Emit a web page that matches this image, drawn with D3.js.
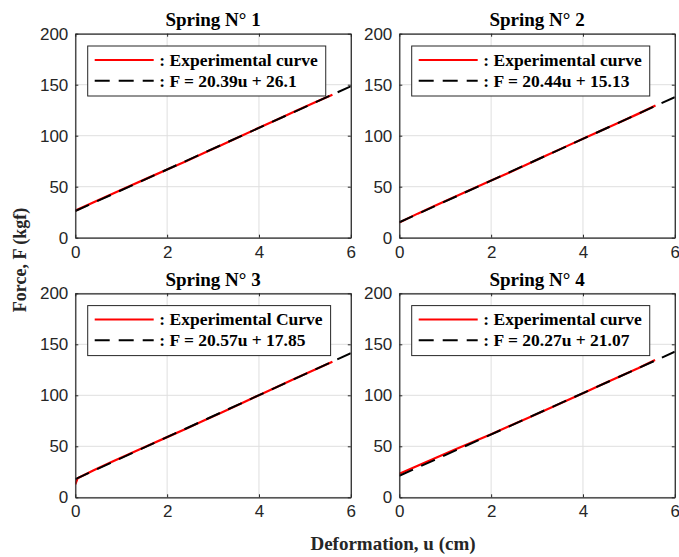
<!DOCTYPE html>
<html>
<head>
<meta charset="utf-8">
<script src="https://cdn.jsdelivr.net/npm/d3@7"></script>
<style>
  html, body { margin: 0; padding: 0; background: #fff; }
  svg { display: block; }
</style>
</head>
<body>
<svg id="chart" width="679" height="557"></svg>
<script>
// ---- data ----
const panelTitles = ["Spring N° 1", "Spring N° 2", "Spring N° 3", "Spring N° 4"];
const expLabels = [": Experimental curve", ": Experimental curve", ": Experimental Curve", ": Experimental curve"];
const fitLabels = [": F = 20.39u + 26.1", ": F = 20.44u + 15.13", ": F = 20.57u + 17.85", ": F = 20.27u + 21.07"];
const fitSlopes = [20.39, 20.44, 20.57, 20.27];
const fitIntercepts = [26.1, 15.13, 17.85, 21.07];

const spring1U = [0, 0.4, 0.8, 1.2, 1.6, 2.0, 2.4, 2.8, 3.2, 3.6, 4.0, 4.4, 4.8, 5.2, 5.6];
const spring1F = [26.5, 34.8, 42.9, 50.9, 58.9, 66.8, 74.8, 83.0, 91.2, 99.5, 107.8, 116.0, 124.1, 132.2, 140.2];
const spring2U = [0, 0.4, 0.8, 1.2, 1.6, 2.0, 2.4, 2.8, 3.2, 3.6, 4.0, 4.4, 4.8, 5.2, 5.58];
const spring2F = [14.8, 23.6, 31.9, 40.0, 48.0, 56.0, 64.0, 72.2, 80.5, 88.8, 97.0, 105.2, 113.3, 121.4, 129.5];
const spring3U = [0, 0.05, 0.4, 0.8, 1.2, 1.6, 2.0, 2.4, 2.8, 3.2, 3.6, 4.0, 4.4, 4.8, 5.2, 5.6];
const spring3F = [12.8, 18.6, 26.6, 34.9, 43.0, 51.0, 59.0, 67.0, 75.2, 83.5, 91.8, 100.1, 108.4, 116.6, 124.8, 133.0];
const spring4U = [0, 0.4, 0.8, 1.2, 1.6, 2.0, 2.4, 2.8, 3.2, 3.6, 4.0, 4.4, 4.8, 5.2, 5.57];
const spring4F = [23.0, 31.0, 38.8, 46.6, 54.2, 61.9, 69.8, 77.8, 85.8, 93.9, 102.1, 110.3, 118.4, 126.5, 134.5];

const xTicks = [0, 2, 4, 6];
const yTicks = [0, 50, 100, 150, 200];
const xLabel = "Deformation, u (cm)";
const yLabel = "Force, F (kgf)";

const expU = [spring1U, spring2U, spring3U, spring4U];
const expF = [spring1F, spring2F, spring3F, spring4F];

// ---- layout ----
const svg = d3.select("#chart");
const panelW = 275.5, panelH = 204;
const panelPos = [[75.3, 33.7], [399.3, 33.7], [75.3, 293.3], [399.3, 293.3]];
const axisColor = "#262626";
const serif = "'Liberation Serif', 'Times New Roman', serif";
const sans = "'Liberation Sans', Arial, Helvetica, sans-serif";

const x = d3.scaleLinear().domain([0, 6]).range([0, panelW]);
const y = d3.scaleLinear().domain([0, 200]).range([panelH, 0]);

panelPos.forEach((pos, i) => {
  const g = svg.append("g").attr("transform", `translate(${pos[0]},${pos[1]})`);

  // grid
  g.append("g").selectAll("line.gx").data(xTicks).join("line")
    .attr("x1", d => x(d)).attr("x2", d => x(d)).attr("y1", 0).attr("y2", panelH)
    .attr("stroke", "#dfdfdf").attr("stroke-width", 1);
  g.append("g").selectAll("line.gy").data(yTicks).join("line")
    .attr("y1", d => y(d)).attr("y2", d => y(d)).attr("x1", 0).attr("x2", panelW)
    .attr("stroke", "#dfdfdf").attr("stroke-width", 1);

  // clip
  const clipId = "clip" + i;
  g.append("clipPath").attr("id", clipId).append("rect")
    .attr("x", 0).attr("y", 0).attr("width", panelW).attr("height", panelH);

  const plot = g.append("g").attr("clip-path", `url(#${clipId})`);
  const line = d3.line().x(d => x(d[0])).y(d => y(d[1]));

  // experimental curve
  const expPts = expU[i].map((u, k) => [u, expF[i][k]]);
  plot.append("path").attr("d", line(expPts))
    .attr("fill", "none").attr("stroke", "#ff0000").attr("stroke-width", 2.2)
    .attr("stroke-linejoin", "round");

  // fit line
  const fitPts = [0, 6].map(u => [u, fitSlopes[i] * u + fitIntercepts[i]]);
  plot.append("path").attr("d", line(fitPts))
    .attr("fill", "none").attr("stroke", "#000").attr("stroke-width", 2)
    .attr("stroke-dasharray", "15,9");

  // axes (box + inward ticks)
  const xAxisB = d3.axisBottom(x).tickValues(xTicks).tickSizeInner(-3).tickSizeOuter(0).tickPadding(8).tickFormat(d3.format("d"));
  const yAxisL = d3.axisLeft(y).tickValues(yTicks).tickSizeInner(-3).tickSizeOuter(0).tickPadding(7).tickFormat(d3.format("d"));
  const xAxisT = d3.axisTop(x).tickValues(xTicks).tickSizeInner(-3).tickSizeOuter(0).tickFormat("");
  const yAxisR = d3.axisRight(y).tickValues(yTicks).tickSizeInner(-3).tickSizeOuter(0).tickFormat("");

  const styleAxis = sel => {
    sel.selectAll("path.domain").attr("stroke", axisColor).attr("stroke-width", 1.2);
    sel.selectAll(".tick line").attr("stroke", axisColor).attr("stroke-width", 1);
    sel.selectAll(".tick text").attr("fill", axisColor).style("font-family", sans).style("font-size", "17px");
  };
  g.append("g").attr("transform", `translate(0,${panelH})`).call(xAxisB).call(styleAxis);
  g.append("g").call(yAxisL).call(styleAxis);
  g.append("g").call(xAxisT).call(styleAxis);
  g.append("g").attr("transform", `translate(${panelW},0)`).call(yAxisR).call(styleAxis);

  // title
  g.append("text").attr("x", panelW / 2).attr("y", -7.7)
    .attr("text-anchor", "middle").attr("fill", "#000")
    .style("font-family", serif).style("font-weight", "bold").style("font-size", "19px")
    .text(panelTitles[i]);

  // legend
  const lx = 12.4, ly = 12.3, lh = 50;
  const leg = g.append("g").attr("transform", `translate(${lx},${ly})`);
  const box = leg.append("rect").attr("x", 0).attr("y", 0).attr("height", lh)
    .attr("fill", "#fff").attr("stroke", axisColor).attr("stroke-width", 1);
  const rows = [
    { label: expLabels[i], color: "#ff0000", dash: null, ly: 14 },
    { label: fitLabels[i], color: "#000", dash: "15,9", ly: 34.7 }
  ];
  let maxW = 0;
  rows.forEach(r => {
    leg.append("line").attr("x1", 7).attr("x2", 66).attr("y1", r.ly).attr("y2", r.ly)
      .attr("stroke", r.color).attr("stroke-width", 2)
      .attr("stroke-dasharray", r.dash);
    const t = leg.append("text").attr("x", 71.6).attr("y", r.ly + 5.8)
      .attr("fill", "#000")
      .style("font-family", serif).style("font-weight", "bold").style("font-size", "17.5px")
      .text(r.label);
    maxW = Math.max(maxW, t.node().getComputedTextLength());
  });
  box.attr("width", 71.6 + maxW + 8);
});

// shared axis labels
svg.append("text").attr("x", 393).attr("y", 550)
  .attr("text-anchor", "middle").attr("fill", "#262626")
  .style("font-family", serif).style("font-weight", "bold").style("font-size", "19px")
  .text(xLabel);

svg.append("text").attr("transform", "translate(26,260) rotate(-90)")
  .attr("text-anchor", "middle").attr("fill", "#262626")
  .style("font-family", serif).style("font-weight", "bold").style("font-size", "18px")
  .text(yLabel);
</script>
</body>
</html>
